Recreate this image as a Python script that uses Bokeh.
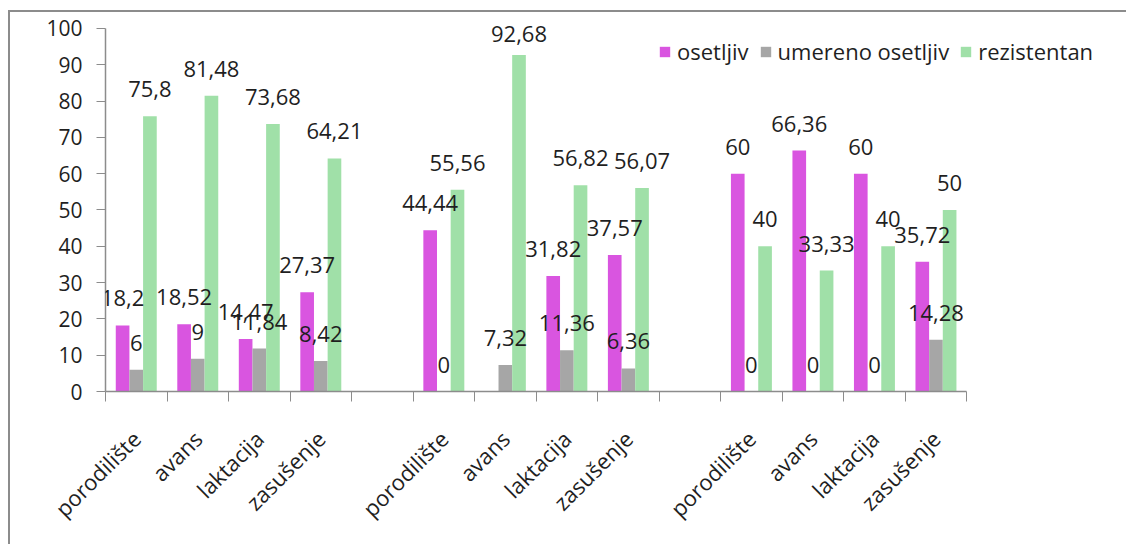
import math
from bokeh.plotting import figure
from bokeh.core.properties import value
from bokeh.models import (ColumnDataSource, Range1d, FixedTicker, CustomJSTickFormatter,
                          LabelSet, Legend, LegendItem)
from bokeh.embed import file_html
from bokeh.resources import INLINE

# --- data -------------------------------------------------------------
stages = ["porodilište", "avans", "laktacija", "zasušenje"]
n_groups = 3
nan = float("nan")

osetljiv = [18.2, 18.52, 14.47, 27.37,
            44.44, nan, 31.82, 37.57,
            60, 66.36, 60, 35.72]
umereno_osetljiv = [6, 9, 11.84, 8.42,
                    0, 7.32, 11.36, 6.36,
                    0, 0, 0, 14.28]
rezistentan = [75.8, 81.48, 73.68, 64.21,
               55.56, 92.68, 56.82, 56.07,
               40, 33.33, 40, 50]

series_names = ["osetljiv", "umereno osetljiv", "rezistentan"]
series_values = [osetljiv, umereno_osetljiv, rezistentan]
series_colors = ["#D955E0", "#A6A6A6", "#A0E0A8"]
y_ticks = list(range(0, 101, 10))

# --- layout of category slots (one empty slot between groups) --------
slot_per_group = len(stages) + 1
n_slots = n_groups * slot_per_group - 1
slot_of = [g * slot_per_group + c for g in range(n_groups) for c in range(len(stages))]
slot_labels = [""] * n_slots
for g in range(n_groups):
    for c, s in enumerate(stages):
        slot_labels[g * slot_per_group + c] = s

FONT = "Open Sans"
TEXT = "#1F1F1F"
AXIS = "#8C8C8C"

# the frame reaches past the axes so that labels and legend are not clipped
x_pad = 2.63
y_top = 104.4
label_cap = 91.0   # labels of very tall bars stay inside the plot area

p = figure(width=1118, height=534, output_backend="svg", toolbar_location=None,
           x_range=Range1d(0, n_slots + x_pad), y_range=Range1d(0, y_top),
           min_border_left=95, min_border_top=0, min_border_bottom=155,
           min_border_right=0,
           styles={"margin-left": "8px", "margin-top": "10px",
                   "border-left": "2px solid #8C8C8C",
                   "border-top": "2px solid #8C8C8C"})
p.outline_line_color = None
p.xgrid.visible = False
p.ygrid.visible = False

bar_w = 0.222
offsets = [-bar_w, 0.0, bar_w]
renderers = []
for name, vals, color, off in zip(series_names, series_values, series_colors, offsets):
    xs = [s + 0.5 + off for s in slot_of]
    src = ColumnDataSource(dict(x=xs, top=vals))
    r = p.vbar(x="x", top="top", width=bar_w, source=src, fill_color=color,
               line_color=None)
    renderers.append(r)
    keep = [i for i, v in enumerate(vals) if not math.isnan(v)]
    lab_src = ColumnDataSource(dict(
        x=[xs[i] for i in keep],
        y=[min(vals[i], label_cap) for i in keep],
        text=[f"{vals[i]:g}".replace(".", ",") for i in keep]))
    p.add_layout(LabelSet(x="x", y="y", text="text", source=lab_src,
                          text_align="center", text_baseline="alphabetic",
                          y_offset=19, text_font=value(FONT),
                          text_font_size=value("22px"), text_color=TEXT))

# y axis
yax = p.yaxis[0]
yax.bounds = (0, 100)
yax.ticker = FixedTicker(ticks=y_ticks)
yax.axis_line_color = AXIS
yax.axis_line_width = 1.5
yax.major_tick_line_color = AXIS
yax.major_tick_out = 9
yax.major_tick_in = 0
yax.minor_tick_line_color = None
yax.major_label_standoff = 14
yax.major_label_text_font = FONT
yax.major_label_text_font_size = "21px"
yax.major_label_text_color = TEXT

# x axis: labels at slot centres, ticks at slot boundaries
xax = p.xaxis[0]
xax.bounds = (0, n_slots)
xax.ticker = FixedTicker(ticks=[s + 0.5 for s in slot_of],
                         minor_ticks=list(range(0, n_slots + 1)))
xax.formatter = CustomJSTickFormatter(args=dict(labels=slot_labels),
                                      code="return labels[Math.floor(tick)] || '';")
xax.axis_line_color = AXIS
xax.axis_line_width = 1.5
xax.major_tick_line_color = None
xax.major_tick_out = 0
xax.major_tick_in = 0
xax.minor_tick_line_color = AXIS
xax.minor_tick_out = 10
xax.minor_tick_in = 0
xax.major_label_orientation = math.pi / 4
xax.major_label_standoff = 33
xax.major_label_text_font = FONT
xax.major_label_text_font_size = "22px"
xax.major_label_text_color = TEXT

legend = Legend(items=[LegendItem(label=n, renderers=[r]) for n, r in zip(series_names, renderers)],
                orientation="horizontal", location=(553, 325),
                glyph_width=13, glyph_height=13, label_standoff=6, spacing=10,
                padding=0, margin=0, border_line_color=None,
                background_fill_alpha=0, label_text_font=FONT,
                label_text_font_size="22px", label_text_color=TEXT)
p.add_layout(legend)

open("out.html", "w").write(file_html(p, INLINE))
